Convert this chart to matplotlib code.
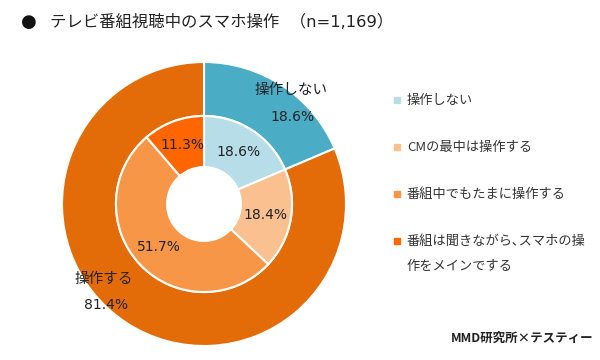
import matplotlib.pyplot as plt
from matplotlib.patches import Rectangle

plt.rcParams["font.family"] = ["Noto Sans CJK JP", "DejaVu Sans"]

TITLE = "テレビ番組視聴中のスマホ操作  （n=1,169）"
CREDIT = "MMD研究所×テスティー"

outer_labels = ["操作しない", "操作する"]
outer_values = [18.6, 81.4]
outer_colors = ["#4bacc6", "#e36c09"]

inner_labels = [
    "操作しない",
    "CMの最中は操作する",
    "番組中でもたまに操作する",
    "番組は聞きながら､スマホの操\n作をメインでする",
]
inner_values = [18.6, 18.4, 51.7, 11.3]
inner_colors = ["#b7dee8", "#fac090", "#f79646", "#ff6600"]

NUM_FONT = ["DejaVu Sans", "Noto Sans CJK JP"]


def main():
    fig = plt.figure(figsize=(6, 3.6), dpi=100)
    ax = fig.add_axes([62 / 600, 14 / 360, 284 / 600, 284 / 360])

    ax.pie(
        outer_values,
        colors=outer_colors,
        startangle=90,
        counterclock=False,
        radius=1.0,
        wedgeprops=dict(width=0.38, edgecolor="white", linewidth=1.5),
    )
    ax.pie(
        inner_values,
        colors=inner_colors,
        startangle=90,
        counterclock=False,
        radius=0.62,
        autopct="%.1f%%",
        pctdistance=0.71,
        textprops=dict(fontsize=10, color="#222222", family=NUM_FONT),
        wedgeprops=dict(width=0.36, edgecolor="white", linewidth=1.5),
    )
    ax.set_xlim(-1, 1)
    ax.set_ylim(-1, 1)
    ax.set_aspect("equal")

    # outer ring labels
    ax.text(0.61, 0.80, outer_labels[0], ha="center", va="center",
            fontsize=10.5, color="#222222")
    ax.text(0.62, 0.61, f"{outer_values[0]}%", ha="center", va="center",
            fontsize=10, color="#222222", family=NUM_FONT)
    ax.text(-0.71, -0.53, outer_labels[1], ha="center", va="center",
            fontsize=10.5, color="#222222")
    ax.text(-0.69, -0.71, f"{outer_values[1]}%", ha="center", va="center",
            fontsize=10, color="#222222", family=NUM_FONT)

    # title
    fig.text(21 / 600, 1 - 22 / 360, "●", fontsize=13, va="center",
             color="#111111", family="DejaVu Sans")
    fig.text(50 / 600, 1 - 22 / 360, TITLE, fontsize=11.8, va="center",
             color="#222222", family=NUM_FONT)

    # legend
    rows_y = [100, 147, 194, 241]
    for y, label, color in zip(rows_y, inner_labels, inner_colors):
        fig.patches.append(Rectangle((394 / 600, 1 - (y + 3) / 360), 6 / 600, 6 / 360,
                                     transform=fig.transFigure, color=color))
        fig.text(407 / 600, 1 - (y - 6) / 360, label, fontsize=9.5, va="top",
                 color="#333333", linespacing=2.2)

    fig.text(594 / 600, 1 - 338 / 360, CREDIT, fontsize=9, ha="right",
             va="center", fontweight="bold", color="#222222")

    fig.savefig("out.png", dpi=100)
    plt.close(fig)


if __name__ == "__main__":
    main()
